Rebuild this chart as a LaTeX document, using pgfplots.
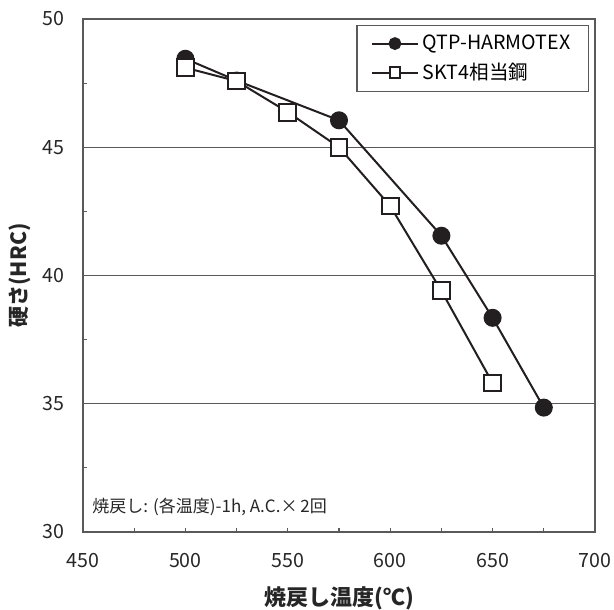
\documentclass[border=0pt]{standalone}
\usepackage{pgfplots}
\pgfplotsset{compat=1.18}
\usepackage{fontspec}
\setmainfont{Noto Sans CJK JP}
\definecolor{ink}{HTML}{231F20}
\definecolor{axgray}{HTML}{595959}
\begin{document}
\begin{tikzpicture}
\begin{axis}[
  scale only axis, width=256pt, height=256.5pt,
  xmin=450, xmax=700, ymin=30, ymax=50,
  xtick={450,500,...,700}, ytick={30,35,...,50},
  minor x tick num=1, minor y tick num=1,
  xtick pos=left, ytick pos=left,
  tick align=inside,
  major tick length=2.2pt, minor tick length=2.2pt,
  ymajorgrids, grid style={line width=0.6pt, color=axgray},
  axis line style={line width=0.7pt, color=axgray},
  every tick/.style={axgray, line width=0.6pt},
  tick label style={font=\fontsize{9.8}{11}\selectfont, text=black!85},
  /pgf/number format/assume math mode=true,
  xticklabel style={yshift=-7pt},
  yticklabel style={xshift=-6pt},
  clip=false,
  legend style={at={(axis description cs:0.988,0.988)}, anchor=north east,
    draw=axgray, line width=0.6pt, font=\fontsize{9.8}{11}\selectfont,
    inner xsep=7pt, inner ysep=2.5pt, row sep=1.2pt,
    nodes={inner xsep=2pt}},
  legend cell align=left,
  legend image code/.code={
    \draw[mark repeat=2, mark phase=2, #1, mark size=2.7pt] plot coordinates {(0pt,0pt)(11.5pt,0pt)(23pt,0pt)};
  },
]
\addplot[ink, line width=1pt, mark=*, mark size=4pt, mark options={fill=ink, solid}]
  coordinates {(500,48.45)(525,47.6)(575,46.05)(625,41.55)(650,38.35)(675,34.85)};
\addlegendentry{QTP-HARMOTEX}
\addplot[ink, line width=1pt, mark=square*, mark size=4.2pt, mark options={fill=white, solid}]
  coordinates {(500,48.1)(525,47.58)(550,46.37)(575,45.0)(600,42.71)(625,39.4)(650,35.81)};
\addlegendentry{SKT4相当鋼}
\end{axis}
\node[anchor=west, inner sep=0pt, font=\fontsize{8.5}{9}\selectfont, text=black!85] at (4.5pt,12.5pt) {焼戻し: (各温度)-1h, A.C.×\,2回};
\node[font=\bfseries\fontsize{11}{12}\selectfont, text=black!85] at (128pt,-33pt) {焼戻し温度(℃)};
\node[rotate=90, font=\bfseries\fontsize{10.5}{12}\selectfont, text=black!85] at (-31.5pt,128.25pt) {硬さ(HRC)};
\pgfresetboundingbox
\path[use as bounding box] (-41.5pt,-38.5pt) rectangle (265.5pt,266pt);
\end{tikzpicture}
\end{document}
